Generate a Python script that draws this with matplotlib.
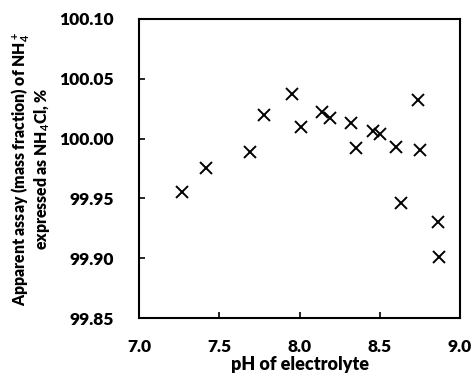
import matplotlib
matplotlib.use("Agg")
import matplotlib.pyplot as plt

plt.rcParams['font.family'] = ['Lato', 'DejaVu Sans']
plt.rcParams['mathtext.fontset'] = 'custom'
plt.rcParams['mathtext.rm'] = 'Lato:bold'
plt.rcParams['mathtext.default'] = 'rm'

# pH и кажущееся содержание
ph = [7.27, 7.42, 7.69, 7.78, 7.95, 8.01, 8.14, 8.19, 8.32, 8.35,
      8.46, 8.50, 8.60, 8.63, 8.74, 8.75, 8.86, 8.87]
assay = [99.955, 99.975, 99.989, 100.020, 100.037, 100.010, 100.022, 100.017,
         100.013, 99.992, 100.006, 100.004, 99.993, 99.946, 100.032, 99.990,
         99.930, 99.901]

xticks = [7.0, 7.5, 8.0, 8.5, 9.0]
yticks = [99.85, 99.90, 99.95, 100.00, 100.05, 100.10]

fig = plt.figure(figsize=(4.73, 3.85), dpi=100)
ax = fig.add_axes([0.294, 0.174, 0.6785, 0.777])

ax.plot(ph, assay, linestyle='none', marker='x', color='black',
        markersize=8, markeredgewidth=1.4)

ax.set_xlim(7.0, 9.0)
ax.set_ylim(99.85, 100.10)
ax.set_xticks(xticks)
ax.set_xticklabels([f'{v:.1f}' for v in xticks])
ax.set_yticks(yticks)
ax.set_yticklabels([f'{v:.2f}' for v in yticks])

for s in ax.spines.values():
    s.set_linewidth(1.5)
ax.tick_params(direction='in', length=4, width=1.2, labelsize=12.5)
ax.tick_params(axis='x', pad=15)
ax.tick_params(axis='y', pad=18)
for lab in ax.get_xticklabels() + ax.get_yticklabels():
    lab.set_fontweight('heavy')

ax.set_xlabel('pH of electrolyte', fontsize=13, fontweight='heavy', labelpad=1)
ax.set_ylabel('Apparent assay (mass fraction) of NH$_4^+$\nexpressed as NH$_4$Cl, %',
              fontsize=11.3, fontweight='heavy', labelpad=5, linespacing=1.1)

plt.savefig('out.png', dpi=100)
plt.close()
